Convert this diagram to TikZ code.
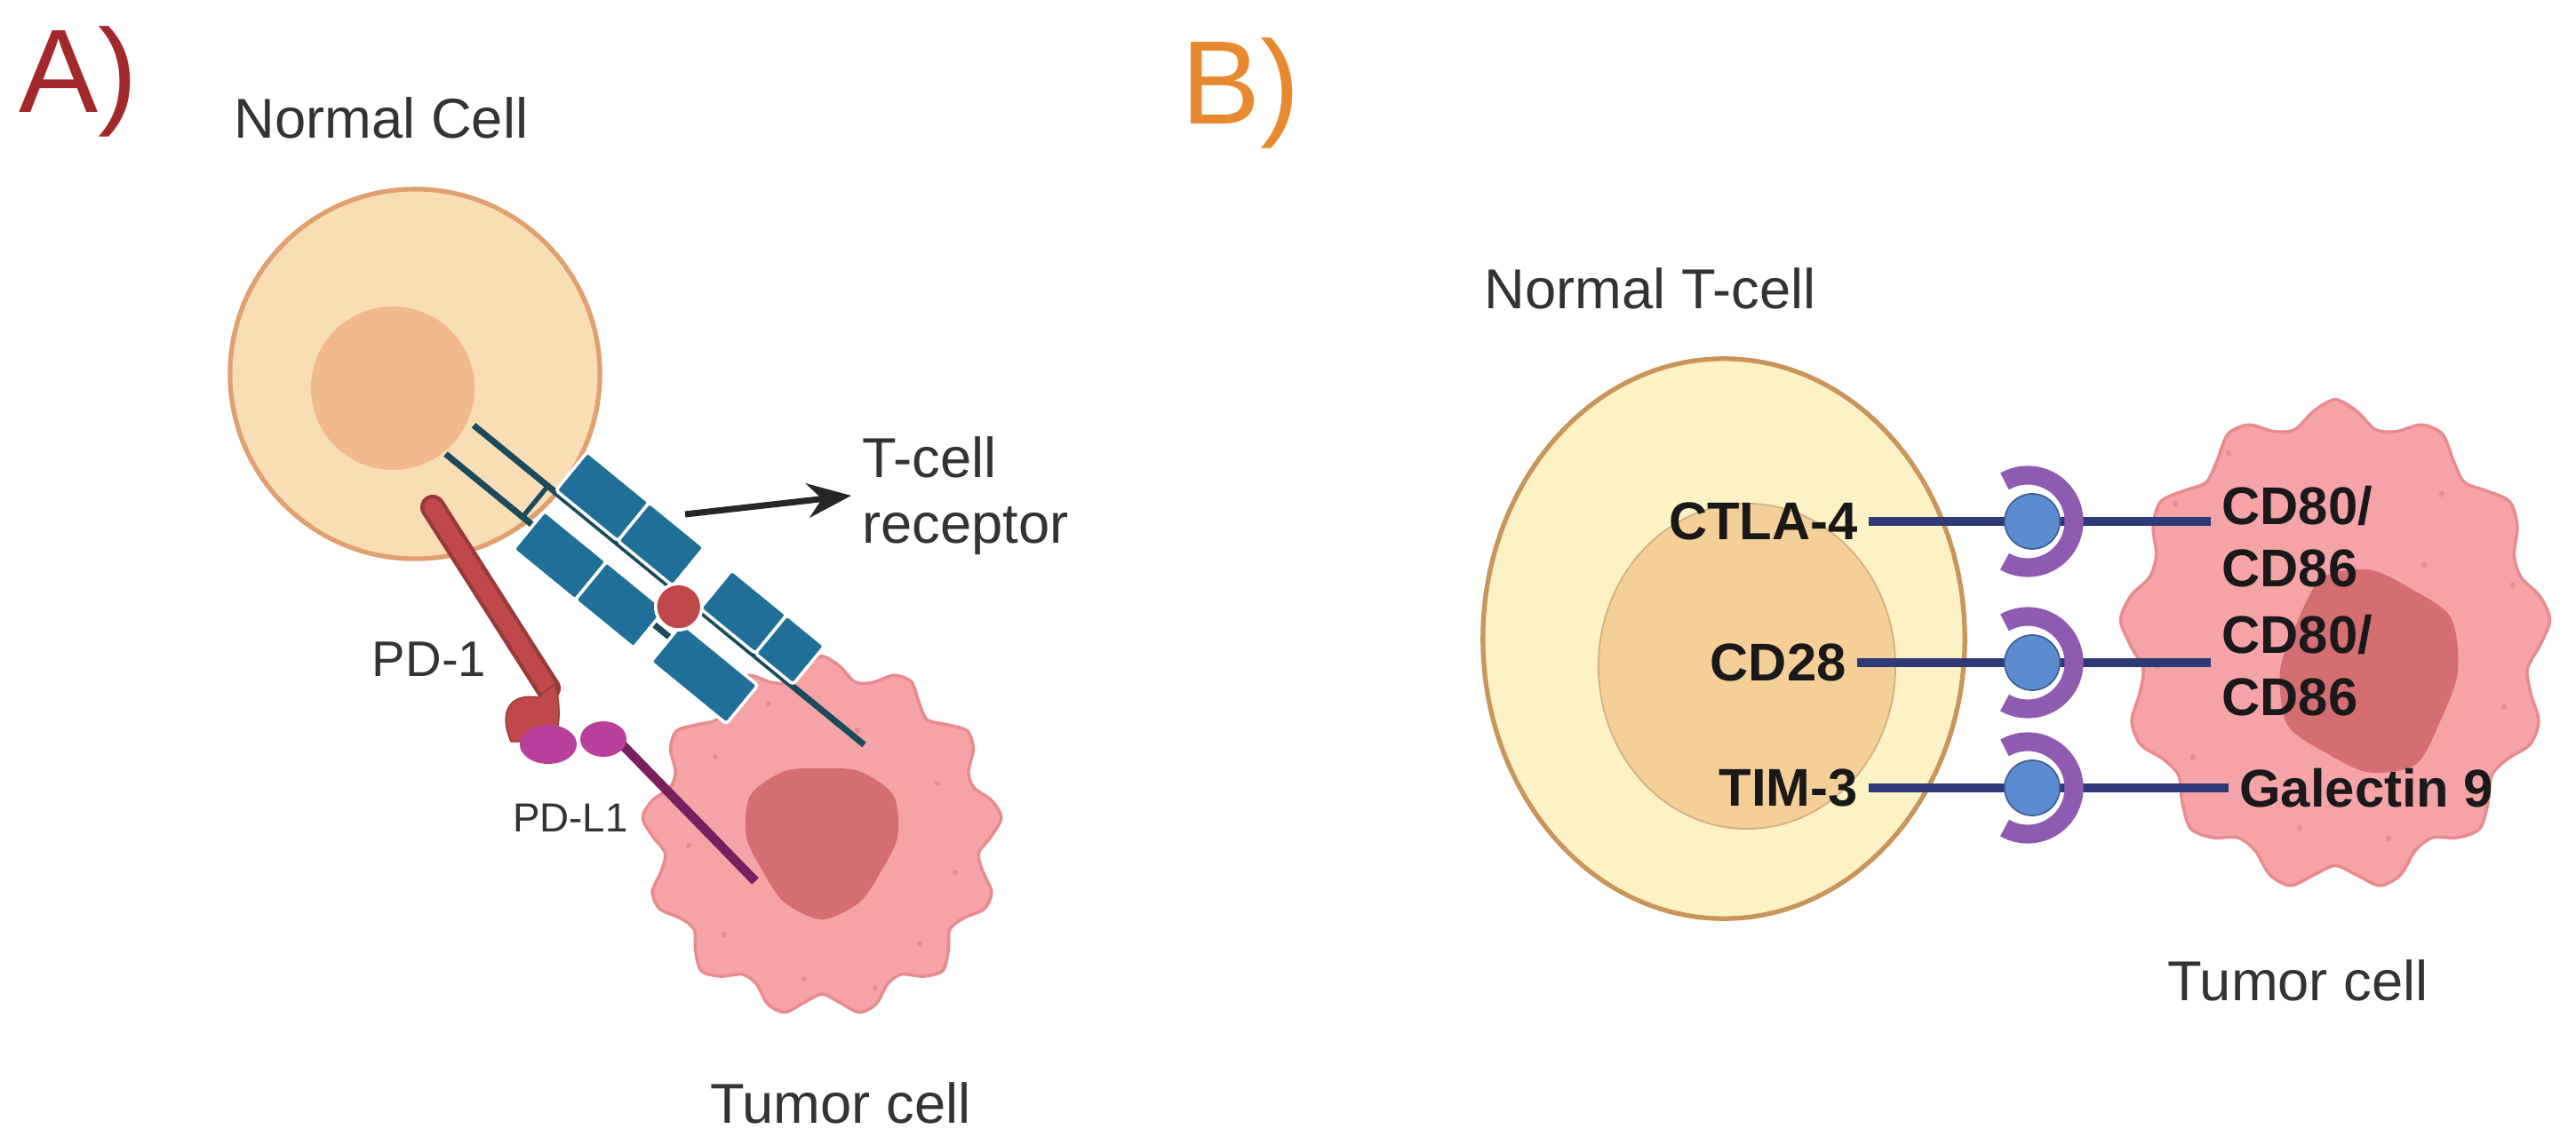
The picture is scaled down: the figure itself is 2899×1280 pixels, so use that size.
\documentclass[tikz,border=0pt]{standalone}
\usepackage{fontspec}
\setmainfont{Liberation Sans}
\usepackage{tikz}
\usetikzlibrary{calc,positioning,arrows.meta}
\definecolor{labA}{HTML}{A3282B}
\definecolor{labB}{HTML}{E8892F}
\definecolor{cellfill}{HTML}{F9DDB5}
\definecolor{celledge}{HTML}{E0A070}
\definecolor{cellnuc}{HTML}{F2B98E}
\definecolor{tcrblue}{HTML}{1F6F99}
\definecolor{tcrline}{HTML}{1A4B5C}
\definecolor{tumfill}{HTML}{F5A3A6}
\definecolor{tumedge}{HTML}{E88A8E}
\definecolor{tumnuc}{HTML}{D46E73}
\definecolor{tcellfill}{HTML}{FDF1C6}
\definecolor{tcelledge}{HTML}{C9955A}
\definecolor{tcellnuc}{HTML}{F5CF98}
\definecolor{recline}{HTML}{2E3A78}
\definecolor{ball}{HTML}{5B8BD0}
\definecolor{cresc}{HTML}{8E5BB0}
\definecolor{pdred}{HTML}{C0474A}
\definecolor{pdl}{HTML}{B8409A}
\definecolor{pdlline}{HTML}{7A1F5E}
\tikzset{
  lbl/.style={font=\fontsize{18}{21}\selectfont, text=black!80},
  blbl/.style={font=\fontsize{17}{20}\selectfont\bfseries, text=black!90},
  block/.style={fill=tcrblue, draw=white, line width=1pt, rounded corners=1pt},
  rec/.style={draw=recline, line width=3pt},
}
\begin{document}
\begin{tikzpicture}[x=0.01cm,y=-0.01cm]
\useasboundingbox (0,0) rectangle (2899,1280);

%Panel labels
\node[text=labA, font=\fontsize{38}{42}\selectfont] (labA) at (88,92) {A)};
\node[text=labB, font=\fontsize{38}{42}\selectfont] (labB) at (1396,105) {B)};

%Normal cell (A)
\draw[fill=cellfill, draw=celledge, line width=1.5pt] (467,421) circle (2.08cm);
\fill[cellnuc] (442,437) circle (0.92cm);
\node[lbl] (ncell) at (429,133) {Normal Cell};

%Tumor cell (A)
\begin{scope}[shift={(925,942)}]
\draw[fill=tumfill, draw=tumedge, line width=1pt] plot[smooth cycle, variable=\t, samples=60, domain=0:354]
  (\t:{1.9cm+0.13cm*sin(13*\t)});
\fill[tumnuc] plot[smooth cycle, variable=\t, samples=12, domain=0:330]
  (\t:{0.85cm+0.08cm*sin(3*\t)});
\foreach \p in {(-120,-90),(-60,-150),(40,-120),(130,-60),(150,40),(110,120),(-20,160),(-110,110),(-150,10),(60,170)}
  \fill[tumedge] \p circle (0.03cm);
\end{scope}
\node[lbl] (tcellA) at (946,1242) {Tumor cell};

%T-cell receptor
\begin{scope}[shift={(752,658)}, rotate=-39.3]
\coordinate (la) at (-287,45); \coordinate (lb) at (120,45);
\coordinate (ma) at (-283,0); \coordinate (mb) at (285,0);
\draw[tcrline, line width=2pt] (la) -- (lb);
\draw[tcrline, line width=2pt] (ma) -- (mb);
\draw[tcrline, line width=1.5pt] (-175,45) -- (-175,0);
\draw[block] (-160,80) rectangle (-70,24);
\draw[block] (-70,80) rectangle (15,24);
\draw[block] (40,80) rectangle (150,24);
\draw[block] (-165,-2) rectangle (-75,-58);
\draw[block] (-75,-2) rectangle (5,-58);
\draw[block] (45,-2) rectangle (125,-58);
\draw[block] (125,-2) rectangle (180,-58);
\fill[pdred, draw=white, line width=1pt] (25,12) circle (0.26cm);
\end{scope}
\coordinate (arrs) at (771,579);
\node[lbl, align=left, anchor=west] (tcr) at (958,558) {T-cell\\receptor};
\draw[-{Stealth[length=14pt,width=11pt]}, line width=2pt, black!85] (arrs) -- (tcr.west);

%PD-1 and PD-L1
\coordinate (pdt) at (487,571); \coordinate (pdb) at (617,775);
\draw[pdred!80!black, line width=8pt, line cap=round] (pdt) -- (pdb);
\draw[pdred, line width=5.5pt, line cap=round] (pdt) -- (pdb);
\fill[pdred, draw=pdred!80!black] (625,770) .. controls (632,800) and (630,825) .. (620,835) -- (575,835) .. controls (560,800) and (575,780) .. (605,785) -- cycle;
\node[lbl, font=\fontsize{16}{19}\selectfont] (pd1) at (483,742) {PD-1};
\coordinate (pls) at (700,838); \coordinate (ple) at (850,992);
\draw[pdlline, line width=3pt] (pls) -- (ple);
\fill[pdl] (617,838) ellipse (0.32cm and 0.22cm);
\fill[pdl] (679,832) ellipse (0.26cm and 0.2cm);
\node[lbl, font=\fontsize{13}{16}\selectfont] (pdl1) at (642,921) {PD-L1};

%Normal T-cell (B)
\draw[fill=tcellfill, draw=tcelledge, line width=1.5pt] (1940,719) ellipse (2.71cm and 3.15cm);
\draw[fill=tcellnuc, draw=tcellnuc!85!black, line width=0.5pt] (1966,750) ellipse (1.67cm and 1.83cm);
\node[lbl] (ntcell) at (1857,325) {Normal T-cell};

%Tumor cell (B)
\begin{scope}[shift={(2628,727)}, yscale=1.14]
\draw[fill=tumfill, draw=tumedge, line width=1pt] plot[smooth cycle, variable=\t, samples=60, domain=0:354]
  (\t:{2.3cm+0.13cm*sin(13*\t)});
\fill[tumnuc] plot[smooth cycle, variable=\t, samples=12, domain=0:330]
  ([shift={(38,25)}]\t:{1.0cm+0.07cm*sin(4*\t)});
\foreach \p in {(-180,-140),(-120,-190),(120,-150),(200,-60),(190,60),(150,140),(-40,180),(-160,110),(-200,20),(60,190),(100,-80)}
  \fill[tumedge] \p circle (0.03cm);
\end{scope}
\node[lbl] (tcellB) at (2586,1104) {Tumor cell};

%Receptor pairs
\node[blbl, anchor=east] (ctla) at (2103,587) {CTLA-4};
\node[blbl, anchor=east] (cd28) at (2090,746) {CD28};
\node[blbl, anchor=east] (tim) at (2103,887) {TIM-3};
\node[blbl, anchor=west, align=left] (cd1) at (2488,604) {CD80/\\CD86};
\node[blbl, anchor=west, align=left] (cd2) at (2488,749) {CD80/\\CD86};
\node[blbl, anchor=west] (gal) at (2508,887) {Galectin 9};
\foreach \a/\b/\y/\n in {ctla/cd1/587/r1, cd28/cd2/746/r2, tim/gal/887/r3}{
  \coordinate (\n) at (2287,\y);
  \draw[rec] (\a.east |- \n) -- (\n);
  \draw[rec] (\n) -- (\b.west |- \n);
  \draw[cresc, line width=6pt] ([shift={(120:0.52cm)}]2282,\y) arc[start angle=120, end angle=-120, radius=0.52cm];
  \fill[ball, draw=ball!70!black, line width=0.5pt] (\n) circle (0.31cm);
}
\end{tikzpicture}
\end{document}
